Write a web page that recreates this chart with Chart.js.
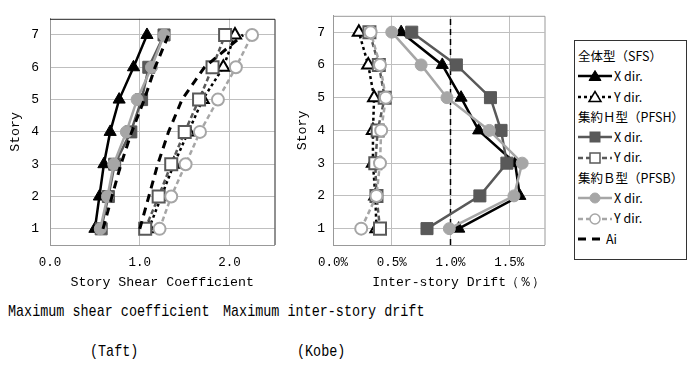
<!DOCTYPE html>
<html>
<head>
<meta charset="utf-8">
<script src="https://cdn.jsdelivr.net/npm/chart.js@4.4.1/dist/chart.umd.min.js"></script>
<style>
  body { margin: 0; width: 699px; height: 369px; background: #fff; position: relative; overflow: hidden; }
  canvas { position: absolute; top: 0; }
  #legend { position: absolute; left: 574px; top: 40px; width: 113px; height: 220px; border: 1px solid #333;
            font-family: 'Noto Sans CJK JP', sans-serif; font-size: 12.5px; color: #000; padding-top: 5px; box-sizing: border-box; }
  #legend .row { height: 20.3px; line-height: 20.3px; white-space: nowrap; padding-left: 3px; display: flex; align-items: center; }
  #legend svg { flex: none; }
  .cap { position: absolute; font-family: 'Liberation Mono', 'DejaVu Sans Mono', monospace; font-size: 17px; line-height: 20px;
         transform: scaleX(0.79); transform-origin: 0 50%; white-space: nowrap; color: #000; }
</style>
</head>
<body>
<canvas id="shear" width="285" height="300" style="left:0"></canvas>
<canvas id="drift" width="270" height="300" style="left:285px"></canvas>
<div id="legend"></div>
<div class="cap" style="left:8px;top:302px">Maximum shear coefficient</div>
<div class="cap" style="left:223px;top:302px">Maximum inter-story drift</div>
<div class="cap" style="left:90px;top:342px">(Taft)</div>
<div class="cap" style="left:297px;top:342px">(Kobe)</div>
<script>
const stories = [1, 2, 3, 4, 5, 6, 7];
const storyTicks = [1, 2, 3, 4, 5, 6, 7];

// max story shear coefficient (Taft)
const sfsShearX = [0.50, 0.55, 0.60, 0.67, 0.77, 0.93, 1.08];
const sfsShearY = [1.10, 1.24, 1.38, 1.54, 1.70, 1.93, 2.06];
const pfshShearX = [0.57, 0.65, 0.72, 0.90, 1.02, 1.10, 1.27];
const pfshShearY = [1.06, 1.21, 1.35, 1.50, 1.66, 1.81, 1.95];
const pfsbShearX = [0.56, 0.64, 0.71, 0.85, 0.97, 1.13, 1.27];
const pfsbShearY = [1.22, 1.35, 1.51, 1.67, 1.87, 2.07, 2.25];
const aiShearX = [0.59, 0.69, 0.79, 0.91, 1.05, 1.17, 1.32];
const aiShearY = [1.00, 1.10, 1.20, 1.32, 1.47, 1.72, 2.15];
const shearTicks = [0, 1, 2];

// max inter-story drift % (Kobe)
const sfsDriftX = [1.07, 1.59, 1.55, 1.24, 1.09, 0.93, 0.58];
const sfsDriftY = [0.37, 0.36, 0.34, 0.34, 0.35, 0.30, 0.22];
const pfshDriftX = [0.80, 1.25, 1.48, 1.43, 1.34, 1.05, 0.67];
const pfshDriftY = [0.40, 0.37, 0.36, 0.38, 0.44, 0.39, 0.31];
const pfsbDriftX = [0.99, 1.54, 1.61, 1.33, 0.97, 0.75, 0.50];
const pfsbDriftY = [0.24, 0.37, 0.40, 0.41, 0.45, 0.40, 0.32];
const aiDrift = [1.0, 1.0];
const aiDriftStories = [0.5, 7.5];
const driftTicks = [0, 0.5, 1.0, 1.5];

const FONT = "'Liberation Mono', 'DejaVu Sans Mono', monospace";
const BLACK = '#000', DARK = '#595959', LIGHT = '#a6a6a6';

const styles = {
    sfsX:  { color: BLACK, fill: BLACK,  shape: 'triangle', r: 7,   dash: [],     w: 2.5 },
    sfsY:  { color: BLACK, fill: '#fff', shape: 'triangle', r: 7,   dash: [3, 3], w: 2.5 },
    pfshX: { color: DARK,  fill: DARK,   shape: 'rect',     r: 8.5, dash: [],     w: 2.5 },
    pfshY: { color: DARK,  fill: '#fff', shape: 'rect',     r: 8.5, dash: [5, 3], w: 2.5 },
    pfsbX: { color: LIGHT, fill: LIGHT,  shape: 'circle',   r: 6,   dash: [],     w: 2.5 },
    pfsbY: { color: LIGHT, fill: '#fff', shape: 'circle',   r: 6,   dash: [5, 3], w: 2.5 },
    ai:    { color: BLACK, fill: BLACK,  shape: false,      r: 0,   dash: [8, 6], w: 3 }
};

const pts = (xs, ys) => xs.map((v, i) => ({ x: v, y: ys[i] }));

const ds = (label, st, data, extra) => Object.assign({
    label: label,
    data: data,
    showLine: true,
    tension: 0,
    borderColor: st.color,
    backgroundColor: st.fill,
    pointBorderColor: st.color,
    pointBackgroundColor: st.fill,
    pointStyle: st.shape,
    pointRadius: st.r,
    pointBorderWidth: st.fill === '#fff' ? 2 : 1,
    borderWidth: st.w,
    borderDash: st.dash
}, extra || {});

// plot frame drawn around chart area
const frame = {
    id: 'frame',
    beforeDatasetsDraw(chart, args, opts) {
        const { ctx, chartArea: a } = chart;
        ctx.save();
        ctx.lineWidth = 1;
        ctx.strokeStyle = opts.topColor;
        ctx.beginPath();
        ctx.moveTo(a.left, a.top + 0.5); ctx.lineTo(a.right + 0.5, a.top + 0.5); ctx.lineTo(a.right + 0.5, a.bottom);
        ctx.stroke();
        ctx.restore();
    }
};

function makeOptions(o) {
    return {
        responsive: false,
        animation: false,
        layout: { padding: { top: 5, right: 8, left: 0, bottom: 0 } },
        plugins: { legend: { display: false }, tooltip: { enabled: false }, frame: { topColor: o.topColor } },
        scales: {
            x: {
                type: 'linear', min: o.xMin, max: o.xMax,
                afterBuildTicks: ax => { ax.ticks = o.xTicks.map(v => ({ value: v })); },
                afterFit: sc => { sc.height = 55; },
                grid: { color: '#bfbfbf', drawTicks: false },
                border: { color: '#999' },
                ticks: { color: '#000', font: { family: FONT, size: 12.5 }, padding: 10, callback: o.xFmt, maxRotation: 0 },
                title: { display: true, text: o.xTitle, color: '#000', font: { family: FONT, size: 13.3 }, padding: { top: 0, bottom: 10 } }
            },
            y: {
                type: 'linear', min: 0.5, max: 7.5,
                afterBuildTicks: ax => { ax.ticks = storyTicks.map(v => ({ value: v })); },
                afterFit: sc => { sc.width = o.yWidth; },
                grid: { color: '#bfbfbf', drawTicks: false },
                border: { color: '#999' },
                ticks: { color: '#000', font: { family: FONT, size: 13 }, padding: o.yPad },
                title: { display: true, text: 'Story', color: '#000', font: { family: FONT, size: 13.3 }, padding: { top: o.yTitlePad, bottom: 0 } }
            }
        }
    };
}

new Chart(document.getElementById('shear'), {
    type: 'scatter',
    data: {
        datasets: [
            ds('Ai X', styles.ai, pts(aiShearX, stories)),
            ds('Ai Y', styles.ai, pts(aiShearY, stories)),
            ds('PFSB Y', styles.pfsbY, pts(pfsbShearY, stories)),
            ds('PFSB X', styles.pfsbX, pts(pfsbShearX, stories)),
            ds('PFSH Y', styles.pfshY, pts(pfshShearY, stories)),
            ds('PFSH X', styles.pfshX, pts(pfshShearX, stories)),
            ds('SFS Y', styles.sfsY, pts(sfsShearY, stories)),
            ds('SFS X', styles.sfsX, pts(sfsShearX, stories))
        ]
    },
    options: makeOptions({
        xMin: 0, xMax: 2.5, xTicks: shearTicks, xFmt: v => v.toFixed(1),
        xTitle: 'Story Shear Coefficient', yWidth: 50, yPad: 11, yTitlePad: 7, topColor: '#222'
    }),
    plugins: [frame]
});

new Chart(document.getElementById('drift'), {
    type: 'scatter',
    data: {
        datasets: [
            ds('PFSB Y', styles.pfsbY, pts(pfsbDriftY, stories)),
            ds('PFSB X', styles.pfsbX, pts(pfsbDriftX, stories)),
            ds('PFSH Y', styles.pfshY, pts(pfshDriftY, stories)),
            ds('PFSH X', styles.pfshX, pts(pfshDriftX, stories)),
            ds('SFS Y', styles.sfsY, pts(sfsDriftY, stories)),
            ds('SFS X', styles.sfsX, pts(sfsDriftX, stories)),
            ds('Ai', styles.ai, pts(aiDrift, aiDriftStories), { borderWidth: 1.5, borderDash: [6, 4] })
        ]
    },
    options: makeOptions({
        xMin: 0, xMax: 1.8, xTicks: driftTicks, xFmt: v => v.toFixed(1) + '%',
        xTitle: '     Inter-story Drift（％）', yWidth: 48, yPad: 8, yTitlePad: 9, topColor: '#999'
    }),
    plugins: [frame]
});

// legend: group headings and line samples
function sample(st, width) {
    const w = width || 34, c = w / 2, y = 7;
    let mark = '';
    const sw = st.fill === '#fff' ? 1.5 : 1;
    if (st.shape === 'triangle') {
        mark = `<polygon points="${c - 6},${y + 4.5} ${c + 6},${y + 4.5} ${c},${y - 5.5}" fill="${st.fill}" stroke="${st.color}" stroke-width="${sw}"/>`;
    } else if (st.shape === 'rect') {
        mark = `<rect x="${c - 5}" y="${y - 5}" width="10" height="10" fill="${st.fill}" stroke="${st.color}" stroke-width="${sw}"/>`;
    } else if (st.shape === 'circle') {
        mark = `<circle cx="${c}" cy="${y}" r="5" fill="${st.fill}" stroke="${st.color}" stroke-width="${sw}"/>`;
    }
    const dash = st.dash.length ? `stroke-dasharray="${st.dash.join(' ')}"` : '';
    return `<svg width="${w}" height="14"><line x1="0" y1="${y}" x2="${w}" y2="${y}" stroke="${st.color}" stroke-width="${st.w}" ${dash}/>${mark}</svg>`;
}

const legendRows = [
    ['全体型（SFS）'],
    ['X dir.', styles.sfsX],
    ['Y dir.', styles.sfsY],
    ['集約Ｈ型（PFSH）'],
    ['X dir.', styles.pfshX],
    ['Y dir.', styles.pfshY],
    ['集約Ｂ型（PFSB）'],
    ['X dir.', styles.pfsbX],
    ['Y dir.', styles.pfsbY],
    ['Ai', styles.ai]
];
const leg = document.getElementById('legend');
legendRows.forEach(([text, st]) => {
    const row = document.createElement('div');
    row.className = 'row';
    if (st) {
        row.innerHTML = sample(st, st === styles.ai ? 26 : 34) + `<span style="margin-left:2px">${text}</span>`;
    } else {
        row.textContent = text;
    }
    leg.appendChild(row);
});
</script>
</body>
</html>
